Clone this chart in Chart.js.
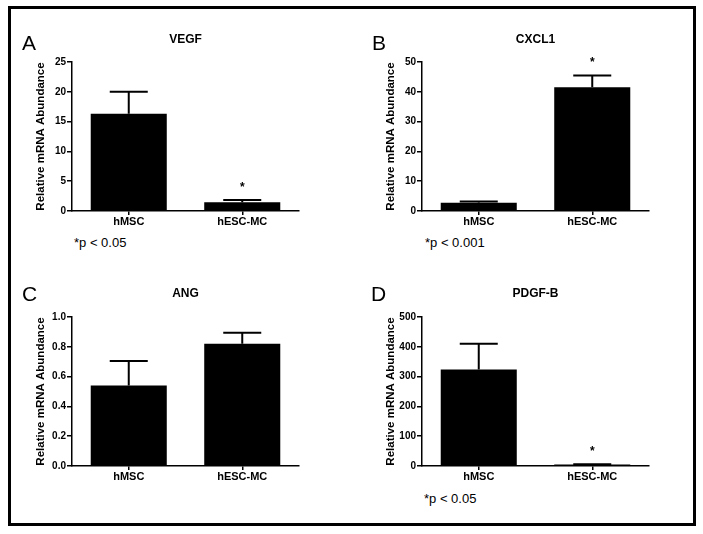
<!DOCTYPE html>
<html lang="en">
<head>
<meta charset="utf-8">
<title>Relative mRNA Abundance</title>
<script src="https://cdn.jsdelivr.net/npm/chart.js@4.4.0/dist/chart.umd.min.js"></script>
<style>
  body { margin: 0; background: #fff; font-family: "Liberation Sans", Arial, sans-serif; color: #000; }
  #frame { position: absolute; left: 8px; top: 6px; width: 682px; height: 514px; border: 3.5px solid #000; }
  canvas { position: absolute; }
  .letter { position: absolute; font-size: 21px; line-height: 1; }
  .pval { position: absolute; font-size: 13px; line-height: 1; white-space: nowrap; }
</style>
</head>
<body>
<div id="frame"></div>

<canvas id="chartA" width="297" height="205" style="left:12px;top:26px"></canvas>
<canvas id="chartB" width="297" height="205" style="left:362px;top:26px"></canvas>
<canvas id="chartC" width="297" height="206" style="left:12px;top:280px"></canvas>
<canvas id="chartD" width="297" height="206" style="left:362px;top:280px"></canvas>

<div class="letter" style="left:22px;top:32px">A</div>
<div class="letter" style="left:372px;top:32px">B</div>
<div class="letter" style="left:22px;top:283px">C</div>
<div class="letter" style="left:371px;top:283px">D</div>

<div class="pval" style="left:74px;top:236px">*p &lt; 0.05</div>
<div class="pval" style="left:425px;top:236px">*p &lt; 0.001</div>
<div class="pval" style="left:424px;top:492px">*p &lt; 0.05</div>

<script>
// data (mean and upper error)
var categories = ['hMSC', 'hESC-MC'];

var vegf = [16.3, 1.45];
var vegfErr = [3.7, 0.4];
var vegfSig = [false, true];

var cxcl1 = [2.8, 41.5];
var cxcl1Err = [0.4, 4.0];
var cxcl1Sig = [false, true];

var ang = [0.54, 0.82];
var angErr = [0.165, 0.075];
var angSig = [false, false];

var pdgfb = [324, 5];
var pdgfbErr = [86, 1];
var pdgfbSig = [false, true];

var ticksA = [0, 5, 10, 15, 20, 25];
var ticksB = [0, 10, 20, 30, 40, 50];
var ticksC = [0, 0.2, 0.4, 0.6, 0.8, 1.0];
var ticksD = [0, 100, 200, 300, 400, 500];

var FONT = '"Liberation Sans", Arial, sans-serif';
Chart.defaults.font.family = FONT;
Chart.defaults.color = '#000';

// upper error bars + significance star
var errorBars = {
  id: 'errorBars',
  afterDatasetsDraw: function (chart, args, opts) {
    var ctx = chart.ctx;
    var yScale = chart.scales.y;
    var values = chart.data.datasets[0].data;
    ctx.save();
    ctx.strokeStyle = '#000';
    ctx.fillStyle = '#000';
    ctx.lineWidth = 2;
    ctx.font = 'bold 12px ' + FONT;
    ctx.textAlign = 'center';
    chart.getDatasetMeta(0).data.forEach(function (bar, i) {
      var top = yScale.getPixelForValue(values[i] + opts.err[i]);
      var half = bar.width / 4;
      ctx.beginPath();
      ctx.moveTo(bar.x, bar.y);
      ctx.lineTo(bar.x, top);
      ctx.moveTo(bar.x - half, top);
      ctx.lineTo(bar.x + half, top);
      ctx.stroke();
      if (opts.sig[i]) {
        ctx.fillText('*', bar.x, top - 16 + 7);
      }
    });
    ctx.restore();
  }
};

function drawPanel(id, title, values, err, sig, ticks, decimals, canvasTop, plotTop) {
  var titleBottom = plotTop - canvasTop - 6 - 14.4;
  new Chart(document.getElementById(id), {
    type: 'bar',
    data: {
      labels: categories,
      datasets: [{
        data: values,
        backgroundColor: '#000',
        borderWidth: 0,
        barPercentage: 0.67,
        categoryPercentage: 1
      }]
    },
    plugins: [errorBars],
    options: {
      responsive: false,
      animation: false,
      layout: { padding: { left: 0, right: 10, top: 0, bottom: 0 } },
      plugins: {
        legend: { display: false },
        tooltip: { enabled: false },
        title: {
          display: true,
          text: title,
          fullSize: false,
          color: '#000',
          font: { size: 12, weight: 'bold' },
          padding: { top: 6, bottom: titleBottom }
        },
        errorBars: { err: err, sig: sig }
      },
      scales: {
        x: {
          grid: { display: true, drawOnChartArea: false, drawTicks: true, tickLength: 4, color: '#000', lineWidth: 1.5, offset: false },
          border: { display: true, color: '#000', width: 1.5 },
          ticks: { color: '#000', padding: 0, font: { size: 11, weight: 'bold' } },
          afterFit: function (s) { s.height = 20; }
        },
        y: {
          min: 0,
          max: ticks[ticks.length - 1],
          afterBuildTicks: function (s) {
            s.ticks = ticks.map(function (v) { return { value: v }; });
          },
          grid: { display: true, drawOnChartArea: false, drawTicks: true, tickLength: 5, color: '#000', lineWidth: 1.5 },
          border: { display: true, color: '#000', width: 1.5 },
          ticks: {
            color: '#000',
            padding: 1,
            font: { size: 10, weight: 'bold' },
            callback: function (v) { return Number(v).toFixed(decimals); }
          },
          title: {
            display: true,
            text: 'Relative mRNA Abundance',
            color: '#000',
            font: { size: 11.5, weight: 'bold' },
            padding: { top: 22, bottom: 0 }
          },
          afterFit: function (s) { s.width = 60; }
        }
      }
    }
  });
}

drawPanel('chartA', 'VEGF', vegf, vegfErr, vegfSig, ticksA, 0, 26, 62);
drawPanel('chartB', 'CXCL1', cxcl1, cxcl1Err, cxcl1Sig, ticksB, 0, 26, 62);
drawPanel('chartC', 'ANG', ang, angErr, angSig, ticksC, 1, 280, 317);
drawPanel('chartD', 'PDGF-B', pdgfb, pdgfbErr, pdgfbSig, ticksD, 0, 280, 317);
</script>
</body>
</html>
